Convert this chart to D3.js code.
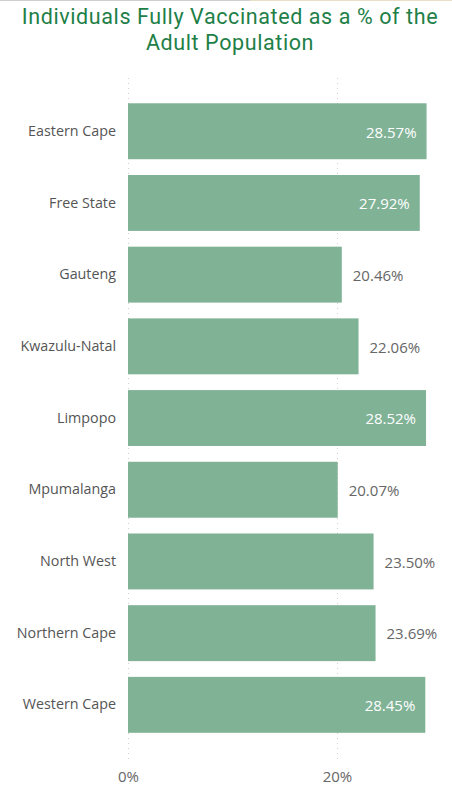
<!DOCTYPE html>
<html>
<head>
<meta charset="utf-8">
<script src="https://cdn.jsdelivr.net/npm/d3@7"></script>
<style>
  body { margin: 0; background: #fff; }
  svg { display: block; }
</style>
</head>
<body>
<div class="chart"></div>
<script>
// Data
var provinces = ["Eastern Cape", "Free State", "Gauteng", "Kwazulu-Natal", "Limpopo",
                 "Mpumalanga", "North West", "Northern Cape", "Western Cape"];
var vaccinated = [28.57, 27.92, 20.46, 22.06, 28.52, 20.07, 23.50, 23.69, 28.45];
var xTicks = [0, 20];

// Configuration
var width = 452;
var height = 789;
var barColor = "#80b296";

var svg = d3.select(".chart").append("svg")
    .attr("width", width)
    .attr("height", height);

// thin top border
svg.append("line")
    .attr("x1", 0).attr("x2", 250).attr("y1", 0.5).attr("y2", 0.5)
    .attr("stroke", "#cfcfcf");
svg.append("line")
    .attr("x1", 250).attr("x2", width).attr("y1", 0.5).attr("y2", 0.5)
    .attr("stroke", "#e8dfc4");

// Title
var title = svg.append("text")
    .attr("text-anchor", "middle")
    .attr("fill", "#1e8047")
    .style("font-family", "Roboto, sans-serif")
    .style("font-weight", "400")
    .style("letter-spacing", "0.6px")
    .style("font-size", "21.5px");
title.append("tspan").attr("x", 230).attr("y", 24).text("Individuals Fully Vaccinated as a % of the");
title.append("tspan").attr("x", 230).attr("y", 50).text("Adult Population");

// Scales
var x = d3.scaleLinear()
    .domain([0, 20])
    .range([128, 337]);

var y = d3.scaleBand()
    .domain(provinces)
    .range([95.4, 740.7])
    .paddingInner(0.22)
    .paddingOuter(0.11);

// Gridlines (dotted)
svg.selectAll("line.grid")
    .data(xTicks)
    .enter().append("line")
    .attr("class", "grid")
    .attr("x1", d => Math.round(x(d)) + 0.5)
    .attr("x2", d => Math.round(x(d)) + 0.5)
    .attr("y1", 78)
    .attr("y2", 762)
    .attr("stroke", "#d0d0d0")
    .attr("stroke-dasharray", "1,4");

// x axis tick labels
var xAxis = d3.axisBottom(x)
    .tickValues(xTicks)
    .tickSize(0)
    .tickFormat(d => d + "%");

var gx = svg.append("g")
    .attr("transform", "translate(0,768)")
    .call(xAxis);
gx.select(".domain").remove();
gx.selectAll("text")
    .attr("fill", "#666")
    .style("font-family", "'Open Sans', sans-serif")
    .style("font-size", "15px");

// y axis category labels
var yAxis = d3.axisLeft(y).tickSize(0).tickPadding(0);
var gy = svg.append("g")
    .attr("transform", "translate(116,0)")
    .call(yAxis);
gy.select(".domain").remove();
gy.selectAll("text")
    .attr("fill", "#555")
    .style("font-family", "'Open Sans', sans-serif")
    .style("font-size", "14.3px");

// Bars
var rows = provinces.map((p, i) => ({name: p, value: vaccinated[i]}));

svg.selectAll("rect.bar")
    .data(rows)
    .enter().append("rect")
    .attr("class", "bar")
    .attr("x", x(0))
    .attr("y", d => y(d.name))
    .attr("width", d => x(d.value) - x(0))
    .attr("height", y.bandwidth())
    .attr("fill", barColor);

// Value labels: inside for long bars, outside for short ones
svg.selectAll("text.value")
    .data(rows)
    .enter().append("text")
    .attr("class", "value")
    .attr("x", d => d.value > 25 ? x(d.value) - 10 : x(d.value) + 11)
    .attr("y", d => y(d.name) + y.bandwidth() / 2 + 1)
    .attr("dy", "0.35em")
    .attr("text-anchor", d => d.value > 25 ? "end" : "start")
    .attr("fill", d => d.value > 25 ? "#fff" : "#666")
    .style("font-family", "'Open Sans', sans-serif")
    .style("font-size", "15px")
    .text(d => d.value.toFixed(2) + "%");
</script>
</body>
</html>
